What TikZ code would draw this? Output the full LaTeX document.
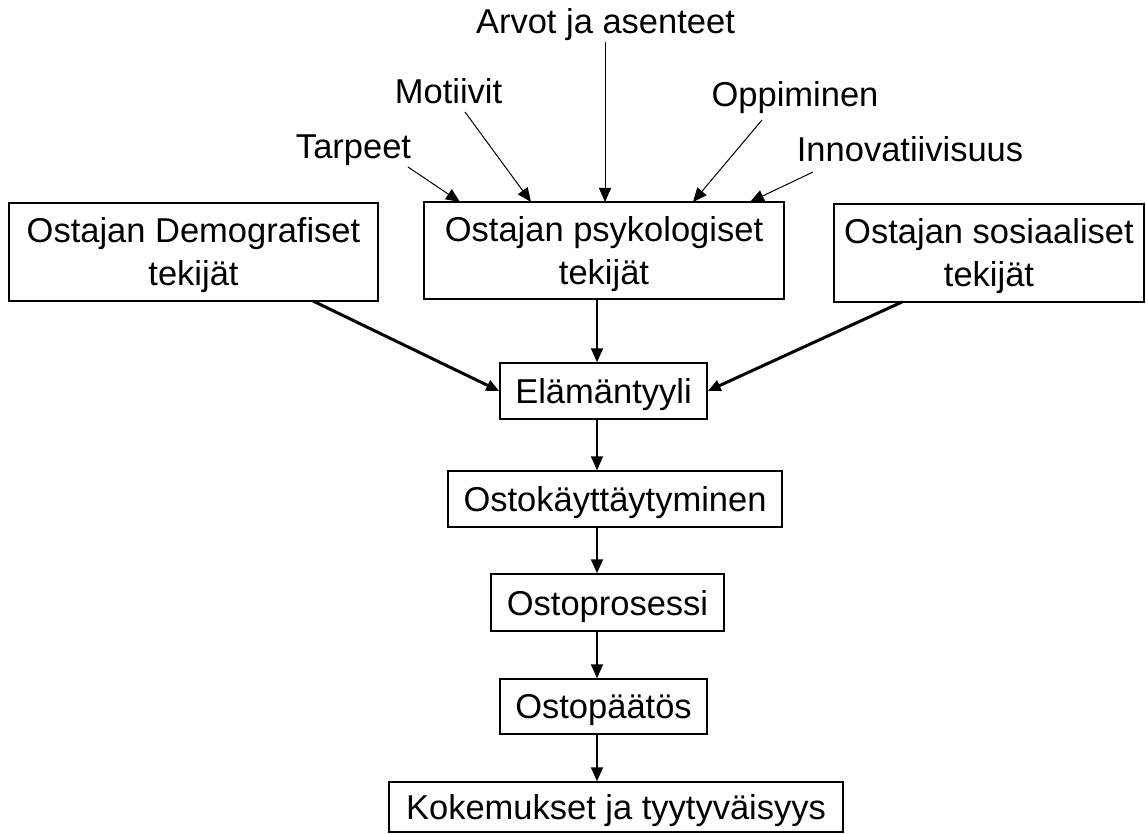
\documentclass[tikz,border=0pt]{standalone}
\usepackage{fontspec}
\setmainfont{Liberation Sans}
\usetikzlibrary{arrows.meta}
\begin{document}
\begin{tikzpicture}[x=1pt,y=-1pt,
  box/.style={draw,line width=1.5pt,inner sep=0pt,align=center,text depth=0pt,font=\fontsize{34.5}{43}\selectfont},
  lbl/.style={inner sep=0pt,anchor=base,font=\fontsize{34.5}{41}\selectfont},
  thinarrow/.style={line width=1pt,-{Triangle[length=14pt,width=12pt]}},
  thickarrow/.style={line width=2pt,-{Triangle[length=14pt,width=12pt]}},
  diagarrow/.style={line width=3pt,-{Triangle[length=13pt,width=11pt]}}
]
\useasboundingbox (0,0) rectangle (1146,834);

% boxes
\node[box,minimum width=369pt,minimum height=98pt] (demo) at (193.5,252) {Ostajan Demografiset\\tekijät};
\node[box,minimum width=360pt,minimum height=97pt] (psy) at (604,250.5) {Ostajan psykologiset\\tekijät};
\node[box,minimum width=310pt,minimum height=98pt] (sos) at (989,253) {Ostajan sosiaaliset\\tekijät};
\node[box,minimum width=207pt,minimum height=56pt] (ela) at (603.5,391) {Elämäntyyli};
\node[box,minimum width=334pt,minimum height=56pt] (osk) at (615,499) {Ostokäyttäytyminen};
\node[box,minimum width=233pt,minimum height=57pt] (osp) at (607.5,602.5) {Ostoprosessi};
\node[box,minimum width=207pt,minimum height=55pt] (opt) at (603.5,706.5) {Ostopäätös};
\node[box,minimum width=454pt,minimum height=50pt] (kok) at (616,807) {Kokemukset ja tyytyväisyys};

% top labels
\node[lbl] (arvot) at (605.5,34) {Arvot ja asenteet};
\node[lbl] (motiivit) at (448.5,104) {Motiivit};
\node[lbl] (tarpeet) at (353.5,159) {Tarpeet};
\node[lbl] (oppiminen) at (795,107) {Oppiminen};
\node[lbl] (innov) at (910,162) {Innovatiivisuus};

% arrow ends
\coordinate (ax) at (597,0);
\coordinate (tS) at (408,167);  \coordinate (tE) at (460,202);
\coordinate (mS) at (465,112);  \coordinate (mE) at (531,202);
\coordinate (aS) at (605,42);   \coordinate (aE) at (605,202);
\coordinate (oS) at (762,120);  \coordinate (oE) at (693,202);
\coordinate (iS) at (813,172);  \coordinate (iE) at (750,202);
\coordinate (dS) at (313,301);  \coordinate (sS) at (902,302);

\draw[thinarrow] (tS) -- (tE);
\draw[thinarrow] (mS) -- (mE);
\draw[thinarrow] (aS) -- (aE);
\draw[thinarrow] (oS) -- (oE);
\draw[thinarrow] (iS) -- (iE);

\draw[diagarrow] (dS) -- (ela.west);
\draw[diagarrow] (sS) -- (ela.east);

\draw[thickarrow] (psy.south -| ax) -- (ela.north -| ax);
\draw[thickarrow] (ela.south -| ax) -- (osk.north -| ax);
\draw[thickarrow] (osk.south -| ax) -- (osp.north -| ax);
\draw[thickarrow] (osp.south -| ax) -- (opt.north -| ax);
\draw[thickarrow] (opt.south -| ax) -- (kok.north -| ax);
\end{tikzpicture}
\end{document}
